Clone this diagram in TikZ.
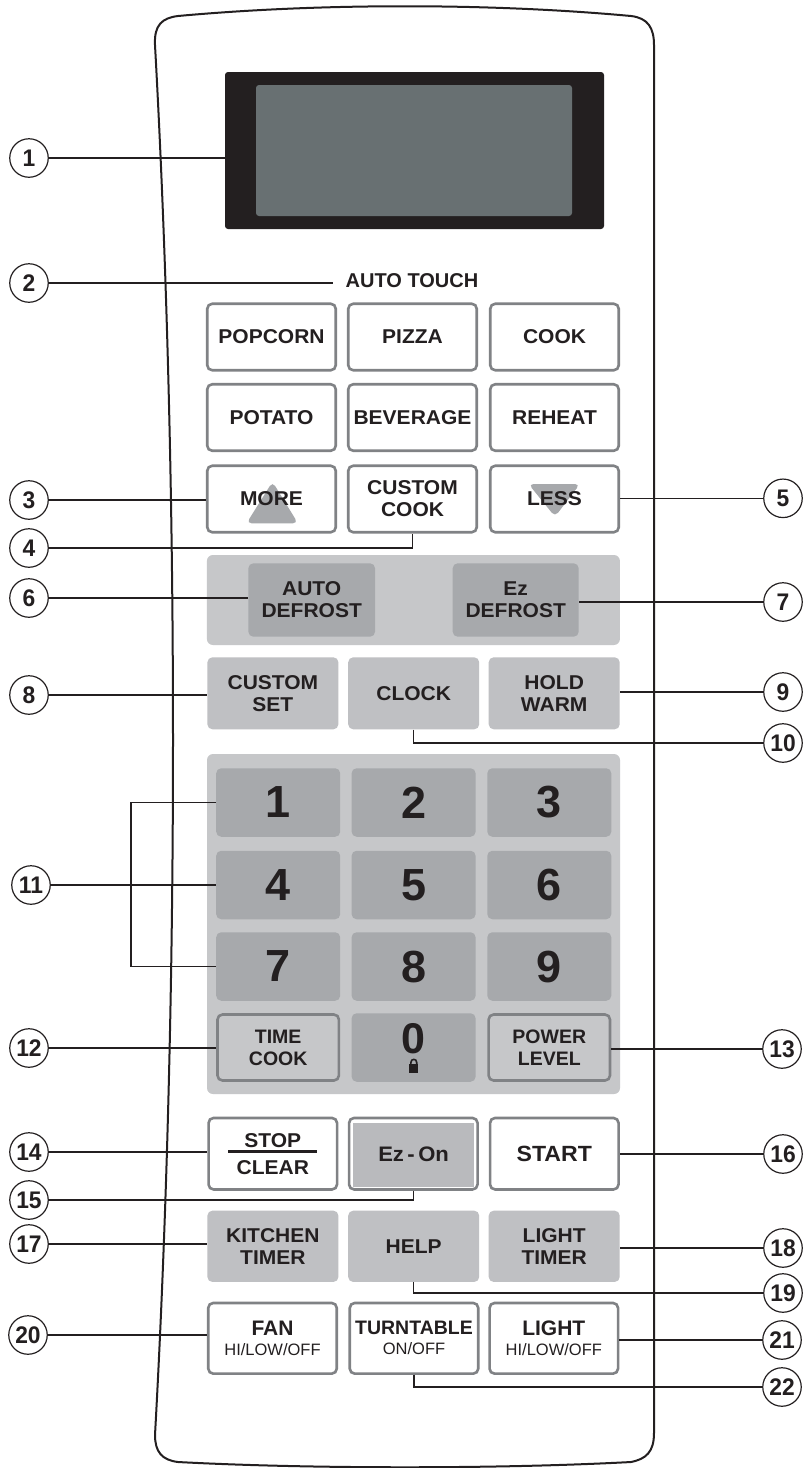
\documentclass[tikz,border=0pt]{standalone}
\usepackage{fontspec}
\setmainfont{Liberation Sans}
\newfontfamily\btnfam[FakeStretch=1.05]{Liberation Sans}
\newfontfamily\callfam[FakeStretch=0.95]{Liberation Sans}
\usetikzlibrary{positioning}

\definecolor{ink}{HTML}{231F20}
\definecolor{edgegray}{HTML}{808285}
\definecolor{lcdgray}{HTML}{687072}
\definecolor{panelgray}{HTML}{C6C7C9}
\definecolor{flatgray}{HTML}{BFC0C3}
\definecolor{keygray}{HTML}{A7A9AC}
\definecolor{ezgray}{HTML}{B9BABD}
\definecolor{arrowgray}{HTML}{A7A9AC}

\begin{document}
\begin{tikzpicture}[x=1pt,y=-1pt,
  lead/.style={line width=1.2pt,draw=ink},
  callout/.style={circle,draw=ink,line width=1.2pt,fill=white,minimum size=38.5pt,inner sep=0pt,text=ink,font=\callfam\bfseries\fontsize{24}{24}\selectfont},
  btn/.style={draw=edgegray,line width=2.6pt,fill=white,rounded corners=5pt,minimum width=128.5pt,minimum height=66.5pt,inner sep=0pt,align=center,text=ink,font=\btnfam\bfseries\fontsize{20}{22}\selectfont},
  padbtn/.style={btn,fill=panelgray,minimum width=121.4pt,minimum height=66pt,font=\bfseries\fontsize{19.5}{22}\selectfont},
  lowbtn/.style={btn,minimum height=70.7pt,font=\fontsize{21}{20}\selectfont},
  flat/.style={fill=flatgray,rounded corners=5pt,minimum width=131pt,minimum height=72pt,inner sep=0pt,align=center,text=ink,font=\btnfam\bfseries\fontsize{20}{22}\selectfont},
  key/.style={fill=keygray,rounded corners=5pt,minimum width=124pt,minimum height=68.5pt,inner sep=0pt,text=ink,font=\bfseries\fontsize{45}{45}\selectfont},
]
\useasboundingbox (0,0) rectangle (804,1468);

% panel outline
\draw[line width=2pt,draw=ink,fill=white] (155,45) .. controls (154,25) and (162,18) .. (178,16)
  .. controls (320,3) and (490,3) .. (631,16) .. controls (648,18) and (654,28) .. (654,45)
  -- (654,1433) .. controls (654,1452) and (646,1459) .. (631,1462)
  .. controls (500,1469) and (310,1469) .. (178,1462) .. controls (162,1460) and (155,1452) .. (155,1435)
  .. controls (179,1000) and (179,480) .. cycle;

% display
\node[fill=ink,rounded corners=3pt,minimum width=379pt,minimum height=157pt,inner sep=0pt] (lcd) at (414.5,150.5) {};
\node[fill=lcdgray,rounded corners=3pt,minimum width=316pt,minimum height=131pt,inner sep=0pt] (screen) at (414,150.5) {};

\node[inner sep=0pt,text=ink,font=\bfseries\fontsize{20}{20}\selectfont] (autot) at (412,281) {AUTO TOUCH};

% auto touch keys
\node[btn] (popcorn) at (271.5,337) {POPCORN};
\node[btn] (pizza) at (412.5,337) {PIZZA};
\node[btn] (cook) at (554.5,337) {COOK};
\node[btn] (potato) at (271.5,417.5) {POTATO};
\node[btn] (beverage) at (412.5,417.5) {BEVERAGE};
\node[btn] (reheat) at (554.5,417.5) {REHEAT};
\node[btn,path picture={\fill[arrowgray] ([shift={(1,-17.3)}]path picture bounding box.center)
    -- ([shift={(-25,24.3)}]path picture bounding box.center)
    -- ([shift={(26.5,24.3)}]path picture bounding box.center) -- cycle;}] (more) at (271.5,499) {MORE};
\node[btn] (ccook) at (412.5,499) {CUSTOM\\COOK};
\node[btn,path picture={\fill[arrowgray] ([shift={(-26,-15)}]path picture bounding box.center)
    -- ([shift={(25.5,-15)}]path picture bounding box.center)
    -- ([shift={(0.5,17.7)}]path picture bounding box.center) -- cycle;}] (less) at (554.5,499) {LESS};

% defrost
\node[fill=panelgray,rounded corners=6pt,minimum width=413pt,minimum height=90pt,inner sep=0pt] (defpanel) at (413.4,600) {};
\node[flat,fill=keygray,minimum width=126.7pt,minimum height=73.4pt] (adef) at (311.7,600) {AUTO\\DEFROST};
\node[flat,fill=keygray,minimum width=126pt,minimum height=73.4pt] (ezdef) at (515.7,600) {Ez\\DEFROST};

\node[flat] (cset) at (272.9,693.3) {CUSTOM\\SET};
\node[flat] (clock) at (413.7,693.3) {CLOCK};
\node[flat] (hold) at (554.2,693.3) {HOLD\\WARM};

% number pad
\node[fill=panelgray,rounded corners=6pt,minimum width=413pt,minimum height=340pt,inner sep=0pt] (pad) at (413.5,924) {};
\node[key] (k1) at (278.2,802.5) {1};
\node[key] (k2) at (413.6,802.5) {2};
\node[key] (k3) at (549.3,802.5) {3};
\node[key] (k4) at (278.2,885) {4};
\node[key] (k5) at (413.6,885) {5};
\node[key] (k6) at (549.3,885) {6};
\node[key] (k7) at (278.2,966.5) {7};
\node[key] (k8) at (413.6,966.5) {8};
\node[key] (k9) at (549.3,966.5) {9};
\node[padbtn] (tcook) at (278.2,1047.5) {TIME\\COOK};
\node[key] (k0) at (413.6,1047.5) {};
\node[inner sep=0pt,text=ink,font=\bfseries\fontsize{43}{43}\selectfont] (zero) at (413.6,1038.5) {0};
\fill[ink] (409.3,1063.5) rectangle (418.3,1073.3);
\draw[ink,line width=1.6pt] (410.9,1064) -- (410.9,1062.5) .. controls (410.9,1058.3) and (416.7,1058.3) .. (416.7,1062.5) -- (416.7,1064);
\node[padbtn] (power) at (549.3,1047.5) {POWER\\LEVEL};

% lower keys
\node[btn,minimum height=71.5pt,font=\btnfam\bfseries\fontsize{20}{27}\selectfont] (stop) at (272.8,1153.7) {STOP\\CLEAR};
\draw[ink,line width=2.5pt] ([xshift=-44.5pt,yshift=2pt]stop.center) -- ([xshift=44.5pt,yshift=2pt]stop.center);
\node[btn,minimum height=71.5pt] (ezon) at (413.3,1153.7) {};
\node[fill=ezgray,minimum width=120.7pt,minimum height=64pt,inner sep=0pt,text=ink,font=\btnfam\bfseries\fontsize{21}{21}\selectfont] (eztxt) at (413.6,1154.6) {Ez\,-\,On};
\node[btn,minimum height=71.5pt,font=\btnfam\bfseries\fontsize{22}{22}\selectfont] (start) at (554.3,1153.7) {START};

\node[flat,minimum height=71.3pt] (ktimer) at (272.9,1246.3) {KITCHEN\\TIMER};
\node[flat,minimum height=71.3pt] (help) at (413.7,1246.3) {HELP};
\node[flat,minimum height=71.3pt] (ltimer) at (554.2,1246.3) {LIGHT\\TIMER};

\node[lowbtn] (fan) at (272.5,1338.3) {\textbf{FAN}\\{\fontsize{16.5}{16}\selectfont HI/LOW/OFF}};
\node[lowbtn] (turn) at (414,1338.3) {\textbf{\fontsize{19.5}{20}\selectfont TURNTABLE}\\{\fontsize{16.5}{16}\selectfont ON/OFF}};
\node[lowbtn] (light) at (553.8,1338.3) {\textbf{LIGHT}\\{\fontsize{16.5}{16}\selectfont HI/LOW/OFF}};

% callouts
\node[callout] (c1) at (29,158) {1};
\node[callout] (c2) at (29,283) {2};
\node[callout] (c3) at (29,500) {3};
\node[callout] (c4) at (29,548) {4};
\node[callout] (c5) at (783,498.3) {5};
\node[callout] (c6) at (29,598) {6};
\node[callout] (c7) at (783,602) {7};
\node[callout] (c8) at (29,695) {8};
\node[callout] (c9) at (783,692) {9};
\node[callout] (c10) at (783,743) {10};
\node[callout] (c11) at (31,885) {11};
\node[callout] (c12) at (29,1048) {12};
\node[callout] (c13) at (782,1049) {13};
\node[callout] (c14) at (29,1152) {14};
\node[callout] (c15) at (29,1200) {15};
\node[callout] (c16) at (783,1154) {16};
\node[callout] (c17) at (29,1244) {17};
\node[callout] (c18) at (783,1248) {18};
\node[callout] (c19) at (783,1293) {19};
\node[callout] (c20) at (28,1335) {20};
\node[callout] (c21) at (782,1340) {21};
\node[callout] (c22) at (782,1387) {22};

\coordinate (brk) at (131,885);

\draw[lead] (c1) -- (c1 -| lcd.west);
\draw[lead] (c2) -- ([xshift=-13pt]c2 -| autot.west);
\draw[lead] (c3) -- (c3 -| more.west);
\draw[lead] (c4) -| (ccook.south);
\draw[lead] (c5) -- (c5 -| less.east);
\draw[lead] (c6) -- (c6 -| adef.west);
\draw[lead] (c7) -- (c7 -| ezdef.east);
\draw[lead] (c8) -- (c8 -| cset.west);
\draw[lead] (c9) -- (c9 -| hold.east);
\draw[lead] (clock.south) |- (c10);
\draw[lead] (k1.west) -| (brk) |- (k7.west);
\draw[lead] (c11) -- (k4.west);
\draw[lead] (c12) -- (c12 -| tcook.west);
\draw[lead] (c13) -- (c13 -| power.east);
\draw[lead] (c14) -- (c14 -| stop.west);
\draw[lead] (c15) -| (ezon.south);
\draw[lead] (c16) -- (c16 -| start.east);
\draw[lead] (c17) -- (c17 -| ktimer.west);
\draw[lead] (c18) -- (c18 -| ltimer.east);
\draw[lead] (help.south) |- (c19);
\draw[lead] (c20) -- (c20 -| fan.west);
\draw[lead] (c21) -- (c21 -| light.east);
\draw[lead] (turn.south) |- (c22);
\end{tikzpicture}
\end{document}
